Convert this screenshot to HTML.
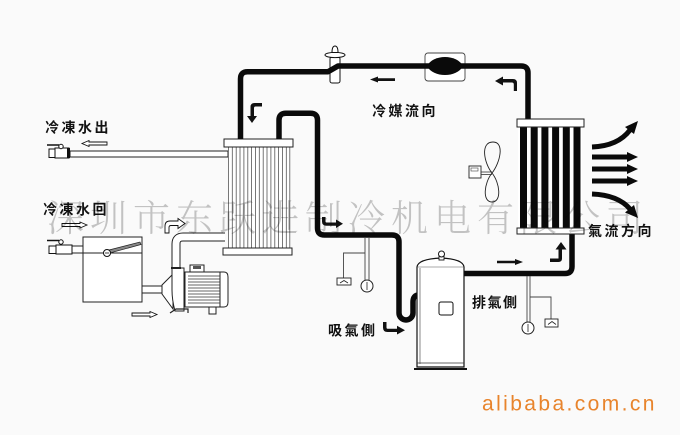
<!DOCTYPE html>
<html><head><meta charset="utf-8">
<style>
html,body{margin:0;padding:0;background:#fafafa;}
svg{display:block;}
.lbl{font-family:"Liberation Sans","Noto Sans CJK TC",sans-serif;font-weight:700;font-size:14px;fill:#111;}
.wm{mix-blend-mode:multiply;}
</style></head><body>
<svg width="680" height="435" viewBox="0 0 680 435" xmlns="http://www.w3.org/2000/svg">
<rect width="680" height="435" fill="#fafafa"/>

<!-- ===== Left water side ===== -->
<rect x="70" y="151" width="158" height="6" fill="#fff" stroke="#222" stroke-width="1"/>
<rect x="49" y="149" width="6" height="8.5" fill="#fff" stroke="#111" stroke-width="1"/>
<rect x="55" y="148" width="14" height="10" fill="#fff" stroke="#111" stroke-width="1"/>
<rect x="67" y="148" width="3" height="10" fill="#111"/>
<line x1="47" y1="145" x2="59" y2="145" stroke="#111" stroke-width="1.5"/>
<circle cx="61" cy="146.5" r="2.2" fill="#fff" stroke="#111" stroke-width="1"/>

<polygon points="82,143.5 89,140.5 89,142 107,142 107,145 89,145 89,146.5" fill="#fff" stroke="#111" stroke-width="0.9"/>
<polygon points="87,225 80,222 80,223.5 62,223.5 62,226.5 80,226.5 80,228" fill="#fff" stroke="#111" stroke-width="0.9"/>
<polygon points="157,314.5 150,311.5 150,313 132,313 132,316 150,316 150,317.5" fill="#fff" stroke="#111" stroke-width="0.9"/>
<path d="M165,233 V226 Q165,221 170,221 H178 V218.5 L185,223.5 L178,228.5 V225.5 H171 Q169,225.5 169,227.5 V233 Z" fill="#fff" stroke="#111" stroke-width="0.9"/>

<rect x="72" y="246" width="11" height="7" fill="#fff" stroke="#222" stroke-width="1"/>
<rect x="49" y="246" width="7" height="7.5" fill="#fff" stroke="#111" stroke-width="1"/>
<rect x="56" y="245" width="16" height="9" fill="#fff" stroke="#111" stroke-width="1"/>
<line x1="47" y1="240.5" x2="59" y2="240.5" stroke="#111" stroke-width="1.5"/>
<circle cx="61" cy="242" r="2.2" fill="#fff" stroke="#111" stroke-width="1"/>

<rect x="83" y="237" width="59" height="65" fill="#fff" stroke="#222" stroke-width="1"/>
<line x1="83" y1="253" x2="142" y2="253" stroke="#222" stroke-width="1"/>
<polygon points="109,250 140,242 141,244.5 110,253" fill="#888" stroke="#222" stroke-width="0.7"/>
<circle cx="107" cy="253" r="3.5" fill="#fff" stroke="#111" stroke-width="1"/>
<line x1="105" y1="253" x2="109" y2="253" stroke="#111" stroke-width="0.8"/>

<rect x="142" y="286" width="21" height="7" fill="#fff" stroke="#222" stroke-width="1"/>

<path d="M176,270 V244 Q176,237 183,237 H225" fill="none" stroke="#222" stroke-width="9"/>
<path d="M176,270 V244 Q176,237 183,237 H225" fill="none" stroke="#fff" stroke-width="7"/>

<polygon points="162,285 173,274 173,309 162,294" fill="#fff" stroke="#222" stroke-width="1"/>
<path d="M172,268 H184 V311 H175 Q172,300 172,290 Z" fill="#fff" stroke="#222" stroke-width="1"/>
<line x1="171" y1="268" x2="181" y2="268" stroke="#222" stroke-width="2"/>
<polyline points="170,313 176,309 188,309 188,313" fill="none" stroke="#222" stroke-width="1.2"/>
<rect x="190" y="265" width="14" height="7" fill="#fff" stroke="#222" stroke-width="1"/>
<rect x="193" y="266" width="8" height="3" fill="#555"/>
<rect x="185" y="272" width="38" height="35" fill="#fff" stroke="#222" stroke-width="1"/>
<path d="M220,272 H224 Q228,272 228,277 V302 Q228,307 224,307 H220 Z" fill="#fff" stroke="#222" stroke-width="1"/>
<g stroke="#333" stroke-width="0.8">
<line x1="188" y1="276" x2="220" y2="276"/><line x1="188" y1="279" x2="220" y2="279"/>
<line x1="188" y1="282" x2="220" y2="282"/><line x1="188" y1="285" x2="220" y2="285"/>
<line x1="188" y1="288" x2="220" y2="288"/><line x1="188" y1="291" x2="220" y2="291"/>
<line x1="188" y1="294" x2="220" y2="294"/><line x1="188" y1="297" x2="220" y2="297"/>
<line x1="188" y1="300" x2="220" y2="300"/><line x1="188" y1="303" x2="220" y2="303"/>
</g>
<rect x="209" y="307" width="7" height="7" fill="#fff" stroke="#222" stroke-width="1"/>

<!-- ===== Evaporator ===== -->
<rect x="228" y="147" width="62" height="101" fill="#fff"/>
<g stroke="#555" stroke-width="0.8">
<line x1="228.5" y1="147" x2="228.5" y2="248"/><line x1="232.3" y1="147" x2="232.3" y2="248"/>
<line x1="236.2" y1="147" x2="236.2" y2="248"/><line x1="240" y1="147" x2="240" y2="248"/>
<line x1="243.9" y1="147" x2="243.9" y2="248"/><line x1="247.8" y1="147" x2="247.8" y2="248"/>
<line x1="251.6" y1="147" x2="251.6" y2="248"/><line x1="255.5" y1="147" x2="255.5" y2="248"/>
<line x1="259.3" y1="147" x2="259.3" y2="248"/><line x1="263.2" y1="147" x2="263.2" y2="248"/>
<line x1="267" y1="147" x2="267" y2="248"/><line x1="270.9" y1="147" x2="270.9" y2="248"/>
<line x1="274.8" y1="147" x2="274.8" y2="248"/><line x1="278.6" y1="147" x2="278.6" y2="248"/>
<line x1="282.5" y1="147" x2="282.5" y2="248"/><line x1="286.3" y1="147" x2="286.3" y2="248"/>
<line x1="289.8" y1="147" x2="289.8" y2="248"/>
</g>
<rect x="224" y="139" width="69" height="8" fill="#fff" stroke="#222" stroke-width="1"/>
<rect x="223" y="248" width="69" height="7" fill="#fff" stroke="#222" stroke-width="1"/>

<!-- ===== Expansion valve ===== -->
<rect x="330" y="57" width="10" height="26" rx="2" fill="#fff" stroke="#111" stroke-width="1"/>
<ellipse cx="335" cy="55" rx="10" ry="2.6" fill="#fff" stroke="#111" stroke-width="1"/>
<path d="M332,52.5 Q332,46 335,46 Q338,46 338,52.5 Z" fill="#fff" stroke="#111" stroke-width="1"/>

<rect x="425" y="53" width="40" height="28" rx="3" fill="#fff" stroke="#444" stroke-width="0.9"/>

<!-- ===== Refrigerant pipes ===== -->
<g fill="none" stroke="#0a0a0a" stroke-width="5.5" stroke-linejoin="round">
<path d="M240.5,139 V79 Q240.5,71.8 247.5,71.8 H328 L338,66 H521 Q528,66 528,73 V119"/>
<path d="M279,139 V120 Q279,113.3 286,113.3 H310.5 Q317.5,113.3 317.5,120 V228 Q317.5,235 324.5,235 H392 Q399,235 399,242 V313 A7,7 0 0 0 413,313 V302 Q413,295 419,295"/>
<path d="M464,273.5 H565 Q572,273.5 572,266.5 V234"/>
</g>
<path d="M427,66 C433,54 457,54 463,66 C457,78 433,78 427,66 Z" fill="#0a0a0a"/>

<!-- ===== Condenser ===== -->
<rect x="518" y="127" width="64" height="101" fill="#fff"/>
<g fill="#0a0a0a">
<rect x="520" y="127" width="7" height="101"/><rect x="530.7" y="127" width="7" height="101"/>
<rect x="541.4" y="127" width="7" height="101"/><rect x="552.1" y="127" width="7" height="101"/>
<rect x="562.8" y="127" width="7" height="101"/><rect x="573.5" y="127" width="7" height="101"/>
</g>
<rect x="517" y="119" width="67" height="8" fill="#fff" stroke="#222" stroke-width="1"/>
<rect x="517" y="228" width="67" height="6" fill="#fff" stroke="#222" stroke-width="1"/>

<g fill="none" stroke="#0a0a0a" stroke-width="5">
<path d="M592,147 Q618,146 630,130"/>
<line x1="592" y1="157" x2="629" y2="157"/>
<line x1="592" y1="169" x2="629" y2="169"/>
<line x1="592" y1="181" x2="629" y2="181"/>
<path d="M592,194 Q618,195 630,209"/>
</g>
<g fill="#0a0a0a">
<polygon points="638,121 634,134 625,127"/>
<polygon points="638,157 627,152 627,162"/>
<polygon points="638,169 627,164 627,174"/>
<polygon points="638,181 627,176 627,186"/>
<polygon points="638,218 634,205 625,212.5"/>
</g>

<!-- fan -->
<path d="M492,173 C484,163 480,142 493,142 C505,142 500,163 492,173 C484,183 482,202 492,202 C502,202 500,183 492,173 Z" fill="none" stroke="#222" stroke-width="0.9"/>
<rect x="469" y="166" width="12" height="12" fill="#fff" stroke="#222" stroke-width="0.9"/>
<rect x="471" y="168" width="7" height="3" fill="none" stroke="#444" stroke-width="0.6"/>
<line x1="481" y1="172" x2="492" y2="172" stroke="#333" stroke-width="0.8"/>
<line x1="481" y1="174.5" x2="492" y2="174.5" stroke="#333" stroke-width="0.8"/>

<!-- ===== Compressor ===== -->
<path d="M417,267 Q418,259 441,258 Q463,259 464,267 V367 H417 Z" fill="#fff" stroke="#111" stroke-width="1.2"/>
<line x1="420" y1="268" x2="420" y2="364" stroke="#555" stroke-width="0.7"/>
<line x1="417" y1="267" x2="464" y2="267" stroke="#555" stroke-width="0.6"/>
<line x1="417" y1="363" x2="464" y2="363" stroke="#333" stroke-width="0.8"/>
<line x1="414" y1="369" x2="467" y2="369" stroke="#111" stroke-width="2"/>
<rect x="439" y="256" width="5" height="4" fill="#fff" stroke="#111" stroke-width="0.9"/>
<circle cx="441.5" cy="254" r="3" fill="#fff" stroke="#111" stroke-width="1"/>
<rect x="439" y="302" width="14" height="13" rx="2" fill="#fff" stroke="#111" stroke-width="1"/>

<!-- gauges -->
<g stroke="#444" stroke-width="0.9" fill="none">
<line x1="365" y1="238" x2="365" y2="280"/>
<line x1="369" y1="238" x2="369" y2="280"/>
<polyline points="365,253 343.5,253 343.5,278"/>
<line x1="527" y1="276" x2="527" y2="322"/>
<line x1="530" y1="276" x2="530" y2="322"/>
<polyline points="530,297 551,297 551,319"/>
</g>
<rect x="337" y="278" width="14" height="7" fill="#fff" stroke="#222" stroke-width="0.9"/>
<path d="M340,283 L344,280.5 L348,283" fill="none" stroke="#222" stroke-width="0.8"/>
<circle cx="367" cy="286" r="6" fill="#fff" stroke="#222" stroke-width="1"/>
<line x1="367" y1="282" x2="367" y2="290" stroke="#222" stroke-width="0.8"/>
<rect x="545" y="319" width="13" height="8" fill="#fff" stroke="#222" stroke-width="0.9"/>
<path d="M548,324.5 L552,321.5 L556,324.5" fill="none" stroke="#222" stroke-width="0.8"/>
<circle cx="528" cy="328" r="6" fill="#fff" stroke="#222" stroke-width="1"/>
<line x1="528" y1="324" x2="528" y2="332" stroke="#222" stroke-width="0.8"/>

<!-- black flow arrows -->
<g fill="#111">
<polygon points="370,79.5 378,76.5 378,78.3 395,78.3 395,81 378,81 378,82.5"/>
<path d="M495,81 L503,76.5 V79 H513 Q517,79 517,83 V91 H513.8 V84.5 Q513.8,82.5 511.8,82.5 H503 V85.5 Z"/>
<path d="M262,103 V106.5 H255.5 Q254,106.5 254,108 V116 H257 L252,123 L247,116 H250.5 V107 Q250.5,103 254.5,103 Z"/>
<path d="M322,217 H325.5 V221.5 Q325.5,222.5 327,222.5 H336 V219.5 L343,223.8 L336,228 V225.8 H326.5 Q322,225.8 322,221.5 Z"/>
<polygon points="523,262 515,259 515,260.7 497,260.7 497,263.3 515,263.3 515,265"/>
<path d="M550,262 V258.5 H558.5 V249.5 H555.5 L561,242 L566.5,249.5 H562 V258.5 Q562,262 558.5,262 Z"/>
<path d="M383,322 H386.5 V327.5 Q386.5,328.8 388,328.8 H397 V325.8 L405,330.2 L397,334.5 V332 H387.5 Q383,332 383,327.5 Z"/>
</g>

<!-- labels -->
<text class="lbl" x="45" y="132.5" letter-spacing="2.5">冷凍水出</text>
<text class="lbl" x="43" y="214.5" letter-spacing="2.5">冷凍水回</text>
<text class="lbl" x="372" y="116" letter-spacing="2.5">冷媒流向</text>
<text class="lbl" x="588" y="236" letter-spacing="2.5">氣流方向</text>
<text class="lbl" x="472" y="307.5" letter-spacing="1.5">排氣側</text>
<text class="lbl" x="328" y="335.5" letter-spacing="2.5">吸氣側</text>

<!-- watermark on top, multiplied -->
<text class="wm" x="47" y="231" font-family="'Liberation Serif','Noto Serif CJK SC',serif" font-weight="300" font-size="37" letter-spacing="6" fill="#c6c6c6">深圳市东跃进制冷机电有限公司</text>

<!-- alibaba -->
<text x="482" y="410.5" font-family="'Liberation Sans',sans-serif" font-size="21" letter-spacing="2.4" fill="#e8842c">alibaba.com.cn</text>
</svg>
</body></html>
